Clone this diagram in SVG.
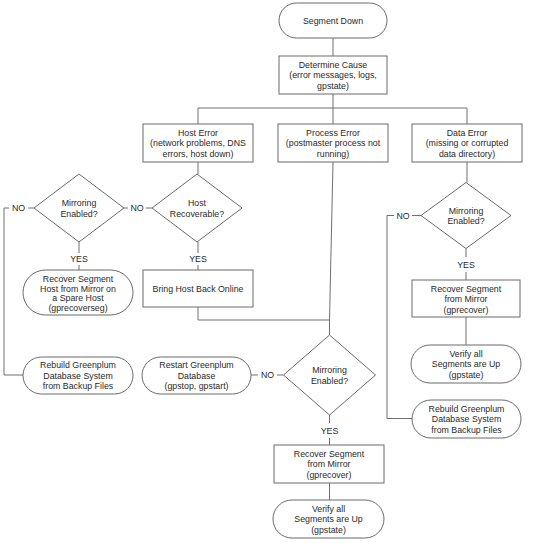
<svg xmlns="http://www.w3.org/2000/svg" width="553" height="546" viewBox="0 0 553 546">
<style>
.s{fill:#fff;stroke:#6a6a6a;stroke-width:1}
.c{fill:none;stroke:#707070;stroke-width:1}
text{font-family:"Liberation Sans",Arial,sans-serif;font-size:8.8px;fill:#2a2a2a;text-anchor:middle}
</style>
<rect width="553" height="546" fill="#fff"/>
<g id="connectors">
<path class="c" d="M333 38V56M333 94V108M198 108H467M198 108V124M333 108V124M467 108V124"/>
<path class="c" d="M198 162V174M152 208H146M128 208H124M34 208H28M9 208H4V375H23"/>
<path class="c" d="M79 242V253M79 265V270M198 242V253M198 265V270M198 307V320H329.5"/>
<path class="c" d="M333 162L329.5 320V335M283.5 375H277M258 375H251M329.5 415V423M329.5 438V445M329.5 483V500"/>
<path class="c" d="M467 162V182.5M421 215.5H412M394 215.5H387V418.5H412M466 248.5V257M466 272V280M466 317V345"/>
</g>
<g id="segment-down"><rect class="s" x="279" y="3" width="108" height="35" rx="17.5"/><text x="333" y="23.5">Segment Down</text></g>
<g id="determine-cause"><rect class="s" x="279" y="56" width="108" height="38"/><text x="333" y="67.5">Determine Cause</text><text x="333" y="78">(error messages, logs,</text><text x="333" y="88.5">gpstate)</text></g>
<g id="host-error"><rect class="s" x="143" y="124" width="110" height="38"/><text x="198" y="135.5">Host Error</text><text x="198" y="146">(network problems, DNS</text><text x="198" y="156.5">errors, host down)</text></g>
<g id="process-error"><rect class="s" x="278" y="124" width="110" height="38"/><text x="333" y="135.5">Process Error</text><text x="333" y="146">(postmaster process not</text><text x="333" y="156.5">running)</text></g>
<g id="data-error"><rect class="s" x="412" y="124" width="110" height="38"/><text x="467" y="135.5">Data Error</text><text x="467" y="146">(missing or corrupted</text><text x="467" y="156.5">data directory)</text></g>
<g id="host-recoverable"><polygon class="s" points="197,174 242,208 197,242 152,208"/><text x="197" y="206">Host</text><text x="197" y="216.5">Recoverable?</text></g>
<g id="mirroring-left"><polygon class="s" points="79,174 124,208 79,242 34,208"/><text x="79" y="206">Mirroring</text><text x="79" y="216.5">Enabled?</text></g>
<g id="label-no-1"><text x="137" y="211">NO</text></g>
<g id="label-no-2"><text x="18.5" y="211">NO</text></g>
<g id="label-yes-1"><text x="79" y="262">YES</text></g>
<g id="label-yes-2"><text x="198" y="262">YES</text></g>
<g id="recover-host"><rect class="s" x="23" y="270" width="110" height="45" rx="22.5"/><text x="78" y="282">Recover Segment</text><text x="78" y="291.7">Host from Mirror on</text><text x="78" y="301.3">a Spare Host</text><text x="78" y="311">(gprecoverseg)</text></g>
<g id="bring-host"><rect class="s" x="143" y="270" width="110" height="37"/><text x="198" y="291.5">Bring Host Back Online</text></g>
<g id="rebuild-left"><rect class="s" x="23" y="357" width="110" height="37" rx="18.5"/><text x="78" y="368">Rebuild Greenplum</text><text x="78" y="378.5">Database System</text><text x="78" y="389">from Backup Files</text></g>
<g id="restart"><rect class="s" x="142" y="357" width="109" height="37" rx="18.5"/><text x="196.5" y="368">Restart Greenplum</text><text x="196.5" y="378.5">Database</text><text x="196.5" y="389">(gpstop, gpstart)</text></g>
<g id="mirroring-mid"><polygon class="s" points="329.5,335 375.5,375 329.5,415 283.5,375"/><text x="329.5" y="373">Mirroring</text><text x="329.5" y="383.5">Enabled?</text></g>
<g id="label-no-3"><text x="267.5" y="378">NO</text></g>
<g id="label-yes-3"><text x="329.5" y="434">YES</text></g>
<g id="recover-mid"><rect class="s" x="274" y="445" width="110" height="38"/><text x="329" y="456.5">Recover Segment</text><text x="329" y="467">from Mirror</text><text x="329" y="477.5">(gprecover)</text></g>
<g id="verify-mid"><rect class="s" x="273" y="500" width="111" height="38" rx="19"/><text x="328.5" y="511.5">Verify all</text><text x="328.5" y="522">Segments are Up</text><text x="328.5" y="532.5">(gpstate)</text></g>
<g id="mirroring-right"><polygon class="s" points="466,182.5 511,215.5 466,248.5 421,215.5"/><text x="466" y="213.5">Mirroring</text><text x="466" y="224">Enabled?</text></g>
<g id="label-no-4"><text x="403" y="218.5">NO</text></g>
<g id="label-yes-4"><text x="466" y="268">YES</text></g>
<g id="recover-right"><rect class="s" x="412" y="280" width="108" height="37"/><text x="466" y="291.5">Recover Segment</text><text x="466" y="302">from Mirror</text><text x="466" y="312.5">(gprecover)</text></g>
<g id="verify-right"><rect class="s" x="411" y="345" width="110" height="38" rx="19"/><text x="466" y="356.5">Verify all</text><text x="466" y="367">Segments are Up</text><text x="466" y="377.5">(gpstate)</text></g>
<g id="rebuild-right"><rect class="s" x="412" y="400" width="109" height="38" rx="19"/><text x="466.5" y="411.5">Rebuild Greenplum</text><text x="466.5" y="422">Database System</text><text x="466.5" y="432.5">from Backup Files</text></g>
</svg>
